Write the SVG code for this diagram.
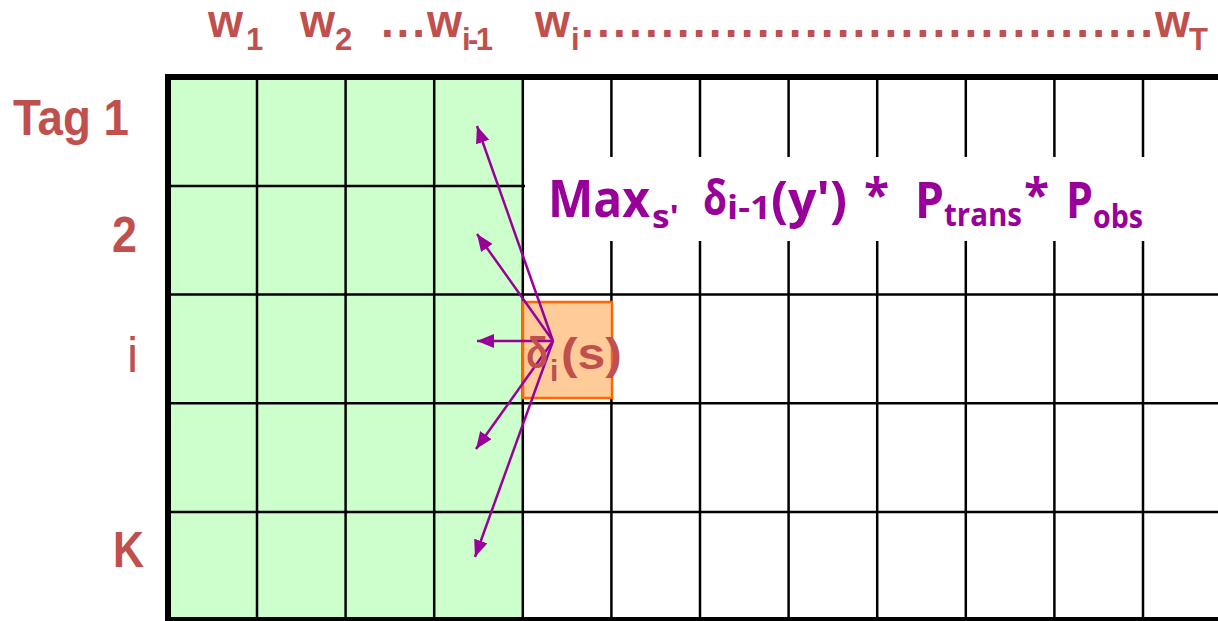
<svg xmlns="http://www.w3.org/2000/svg" width="1218" height="621" viewBox="0 0 1218 621">
  <defs>
    <marker id="ah" markerUnits="userSpaceOnUse" markerWidth="18" markerHeight="14" refX="17" refY="7" orient="auto">
      <path d="M0,0 L17,7 L0,14 z" fill="#990099"/>
    </marker>
    <style>
      .lbl { font-family: "Liberation Sans", Arial, sans-serif; font-weight: bold; fill: #C0504D; }
      .frm { font-family: "Comic Sans MS", "Open Sans", "Liberation Sans", sans-serif; font-weight: bold; fill: #990099; }
      .thin { stroke: #000; stroke-width: 2.5; fill: none; }
      .conn { stroke: #990099; stroke-width: 2.5; fill: none; marker-end: url(#ah); }
    </style>
  </defs>
  <rect x="0" y="0" width="1218" height="621" fill="#fff"/>

  <g id="grid">
    <rect x="168" y="77" width="354.5" height="544" fill="#CCFFCC"/>
    <g class="thin">
      <line x1="257" y1="77" x2="257" y2="621"/>
      <line x1="345.6" y1="77" x2="345.6" y2="621"/>
      <line x1="434.2" y1="77" x2="434.2" y2="621"/>
      <line x1="522.8" y1="77" x2="522.8" y2="621"/>
      <line x1="611.4" y1="77" x2="611.4" y2="621"/>
      <line x1="700" y1="77" x2="700" y2="621"/>
      <line x1="788.6" y1="77" x2="788.6" y2="621"/>
      <line x1="877.2" y1="77" x2="877.2" y2="621"/>
      <line x1="965.8" y1="77" x2="965.8" y2="621"/>
      <line x1="1054.4" y1="77" x2="1054.4" y2="621"/>
      <line x1="1143" y1="77" x2="1143" y2="621"/>
      <line x1="168" y1="186" x2="1218" y2="186"/>
      <line x1="168" y1="294.5" x2="1218" y2="294.5"/>
      <line x1="168" y1="403.3" x2="1218" y2="403.3"/>
      <line x1="168" y1="512" x2="1218" y2="512"/>
    </g>
    <rect x="165" y="74" width="1053" height="6" fill="#000"/>
    <rect x="165" y="74" width="6" height="547" fill="#000"/>
    <rect x="165" y="617" width="1053" height="4" fill="#000"/>
  </g>

  <g id="col-labels" class="lbl">
    <text x="208" y="37" font-size="46" textLength="35" lengthAdjust="spacingAndGlyphs">w</text>
    <text x="246" y="50" font-size="31">1</text>
    <text x="300" y="37" font-size="46" textLength="35" lengthAdjust="spacingAndGlyphs">w</text>
    <text x="335" y="50" font-size="31">2</text>
    <text x="381" y="37" font-size="46" textLength="44">...</text>
    <text x="427" y="37" font-size="46" textLength="35" lengthAdjust="spacingAndGlyphs">w</text>
    <text x="462" y="50" font-size="31" textLength="31">i-1</text>
    <text x="535" y="37" font-size="46" textLength="35" lengthAdjust="spacingAndGlyphs">w</text>
    <text x="571" y="50" font-size="31">i</text>
    <text x="581" y="37" font-size="46" textLength="572">....................................</text>
    <text x="1155" y="37" font-size="46" textLength="35" lengthAdjust="spacingAndGlyphs">w</text>
    <text x="1189" y="50" font-size="31">T</text>
  </g>

  <g id="row-labels" class="lbl">
    <text x="13" y="135" font-size="50" textLength="116" lengthAdjust="spacingAndGlyphs">Tag 1</text>
    <text x="112" y="252" font-size="50" textLength="25" lengthAdjust="spacingAndGlyphs">2</text>
    <text x="127" y="372" font-size="50" font-weight="normal">i</text>
    <text x="113" y="567" font-size="50" textLength="31" lengthAdjust="spacingAndGlyphs">K</text>
  </g>

  <g id="formula">
    <rect x="525" y="157" width="693" height="84" fill="#fff"/>
    <g class="frm">
      <text x="548" y="217" font-size="52" textLength="102" lengthAdjust="spacingAndGlyphs">Max</text>
      <text x="652" y="228" font-size="32" textLength="27" lengthAdjust="spacingAndGlyphs">s'</text>
      <text x="703" y="215" font-size="48" textLength="24" lengthAdjust="spacingAndGlyphs">δ</text>
      <text x="727" y="219" font-size="32" textLength="44" lengthAdjust="spacingAndGlyphs">i-1</text>
      <text x="771" y="217" font-size="50" textLength="76" lengthAdjust="spacingAndGlyphs">(y')</text>
      <text x="864" y="212" font-size="46">*</text>
      <text x="915" y="218" font-size="50" textLength="29" lengthAdjust="spacingAndGlyphs">P</text>
      <text x="944" y="226" font-size="32" textLength="78" lengthAdjust="spacingAndGlyphs">trans</text>
      <text x="1024" y="212" font-size="46">*</text>
      <text x="1066" y="218" font-size="50" textLength="27" lengthAdjust="spacingAndGlyphs">P</text>
      <text x="1093" y="228" font-size="32" textLength="50" lengthAdjust="spacingAndGlyphs">obs</text>
    </g>
  </g>

  <g id="cell-delta">
    <rect x="523" y="302" width="89" height="96" fill="#FFCC99" stroke="#FF6600" stroke-width="2.5"/>
  </g>

  <g id="connectors">
    <line class="conn" x1="553" y1="341" x2="477" y2="126"/>
    <line class="conn" x1="553" y1="341" x2="477" y2="234"/>
    <line class="conn" x1="553" y1="341" x2="477" y2="341"/>
    <line class="conn" x1="553" y1="341" x2="476" y2="449"/>
    <line class="conn" x1="553" y1="341" x2="475" y2="557"/>
  </g>

  <g id="cell-delta-label" class="lbl">
    <text x="526" y="368" font-size="44" textLength="22" lengthAdjust="spacingAndGlyphs">δ</text>
    <text x="550" y="381" font-size="30">i</text>
    <text x="561" y="369" font-size="44" textLength="61" lengthAdjust="spacingAndGlyphs">(s)</text>
  </g>
</svg>
